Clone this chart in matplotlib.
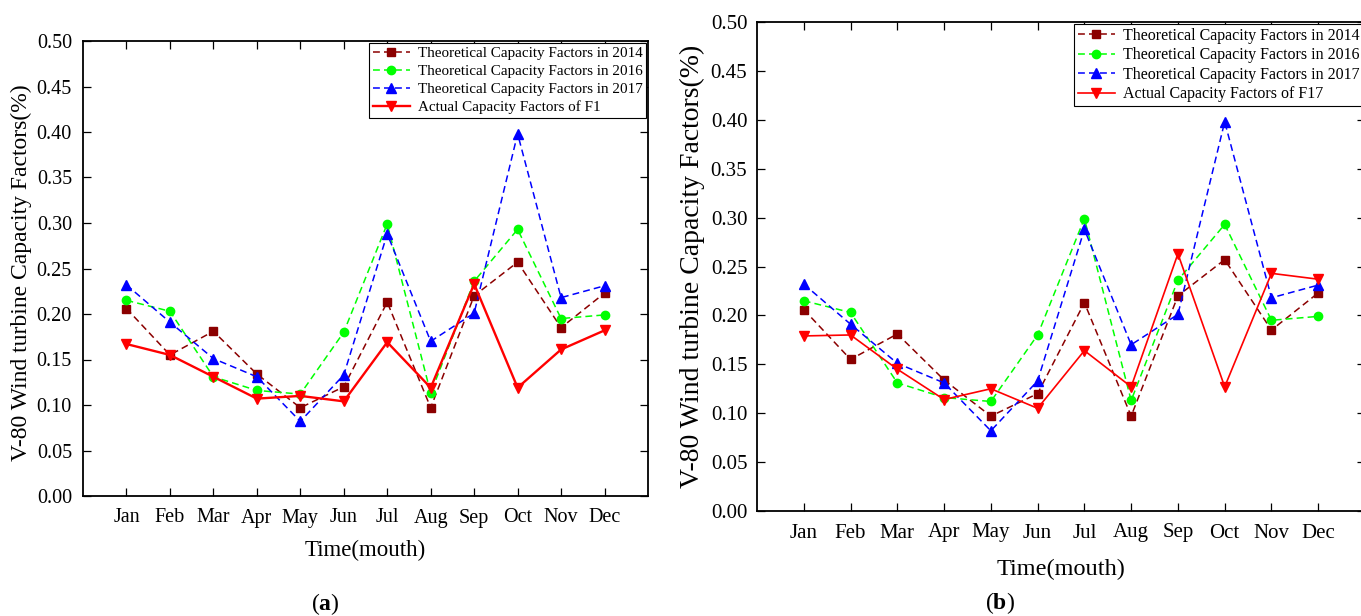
import numpy as np
import matplotlib
matplotlib.use("Agg")
import matplotlib.pyplot as plt

plt.rcParams['font.family'] = ['Liberation Serif', 'DejaVu Serif']
plt.rcParams['mathtext.fontset'] = 'custom'
plt.rcParams['mathtext.rm'] = 'Liberation Serif'
plt.rcParams['mathtext.bf'] = 'Liberation Serif:bold'

months = ['Jan', 'Feb', 'Mar', 'Apr', 'May', 'Jun',
          'Jul', 'Aug', 'Sep', 'Oct', 'Nov', 'Dec']

# theoretical capacity factors (same in both panels)
cf_2014 = [0.206, 0.155, 0.181, 0.134, 0.097, 0.120,
           0.213, 0.097, 0.220, 0.257, 0.185, 0.223]
cf_2016 = [0.215, 0.203, 0.131, 0.116, 0.112, 0.180,
           0.299, 0.113, 0.236, 0.293, 0.195, 0.199]
cf_2017 = [0.232, 0.191, 0.151, 0.131, 0.082, 0.133,
           0.288, 0.170, 0.201, 0.398, 0.218, 0.231]

# actual capacity factors
actual_f1 = [0.167, 0.155, 0.131, 0.107, 0.110, 0.104,
             0.169, 0.119, 0.233, 0.119, 0.161, 0.182]
actual_f17 = [0.179, 0.180, 0.145, 0.114, 0.125, 0.105,
              0.164, 0.127, 0.263, 0.127, 0.243, 0.237]

W, H = 1361, 616
fig = plt.figure(figsize=(W/100, H/100), dpi=100)

ax1 = fig.add_axes([83/W, (H-496)/H, 565/W, 455/H])
ax2 = fig.add_axes([757/W, (H-511)/H, 608/W, 489/H])

x = np.arange(1, 13)
dash = (0, (4.5, 2.7))


def draw(ax, actual, name, tsize, lsize, ysize, red_lw, ypad, xlpad,
         leg_fs, hl, lsp, lab_x, lab_y):
    ax.plot(x, cf_2014, color='#8b0000', ls=dash, lw=1.1, marker='s', ms=5.5,
            label='Theoretical Capacity Factors in 2014')
    ax.plot(x, cf_2016, color='#00ff00', ls=dash, lw=1.1, marker='o', ms=6,
            label='Theoretical Capacity Factors in 2016')
    ax.plot(x, cf_2017, color='#0000ff', ls=dash, lw=1.1, marker='^', ms=6.5,
            label='Theoretical Capacity Factors in 2017')
    ax.plot(x, actual, color='#ff0000', ls='-', lw=red_lw, marker='v', ms=6.5,
            label='Actual Capacity Factors of ' + name)

    ax.set_xlim(0, 13)
    ax.set_ylim(0, 0.5)
    ax.set_xticks(x)
    ax.set_xticklabels(months, fontsize=tsize)
    yt = np.arange(0, 0.501, 0.05)
    ax.set_yticks(yt)
    ax.set_yticklabels(['%.2f' % v for v in yt], fontsize=tsize)
    ax.tick_params(direction='in', length=6, width=0.9, top=True, right=True)
    ax.tick_params(axis='x', pad=9)
    ax.tick_params(axis='y', pad=ypad)
    for s in ax.spines.values():
        s.set_linewidth(1.3)

    ax.set_ylabel('V-80 Wind turbine Capacity Factors(%)', fontsize=ysize)
    ax.yaxis.set_label_coords(lab_x, lab_y)
    ax.set_xlabel('Time(mouth)', fontsize=lsize, labelpad=xlpad)

    leg = ax.legend(loc='upper right', fontsize=leg_fs, frameon=True,
                    fancybox=False, framealpha=1, edgecolor='black',
                    borderpad=0.25, borderaxespad=0.1, labelspacing=lsp,
                    handlelength=hl, handletextpad=0.5)
    leg.get_frame().set_linewidth(0.8)


draw(ax1, actual_f1, 'F1', 14.5, 16.5, 17, 1.7, 8, 9, 10.9, 2.5, 0.3, -0.09, 0.49)
draw(ax2, actual_f17, 'F17', 15, 17.5, 20, 1.2, 7, 12, 11.5, 2.3, 0.22, -0.086, 0.5)

fig.text(325/W, 1 - 604/H, r'($\mathbf{a}$)', fontsize=17, ha='center', va='center')
fig.text(1000/W, 1 - 603/H, r'($\mathbf{b}$)', fontsize=17, ha='center', va='center')

fig.savefig('out.png', dpi=100)
